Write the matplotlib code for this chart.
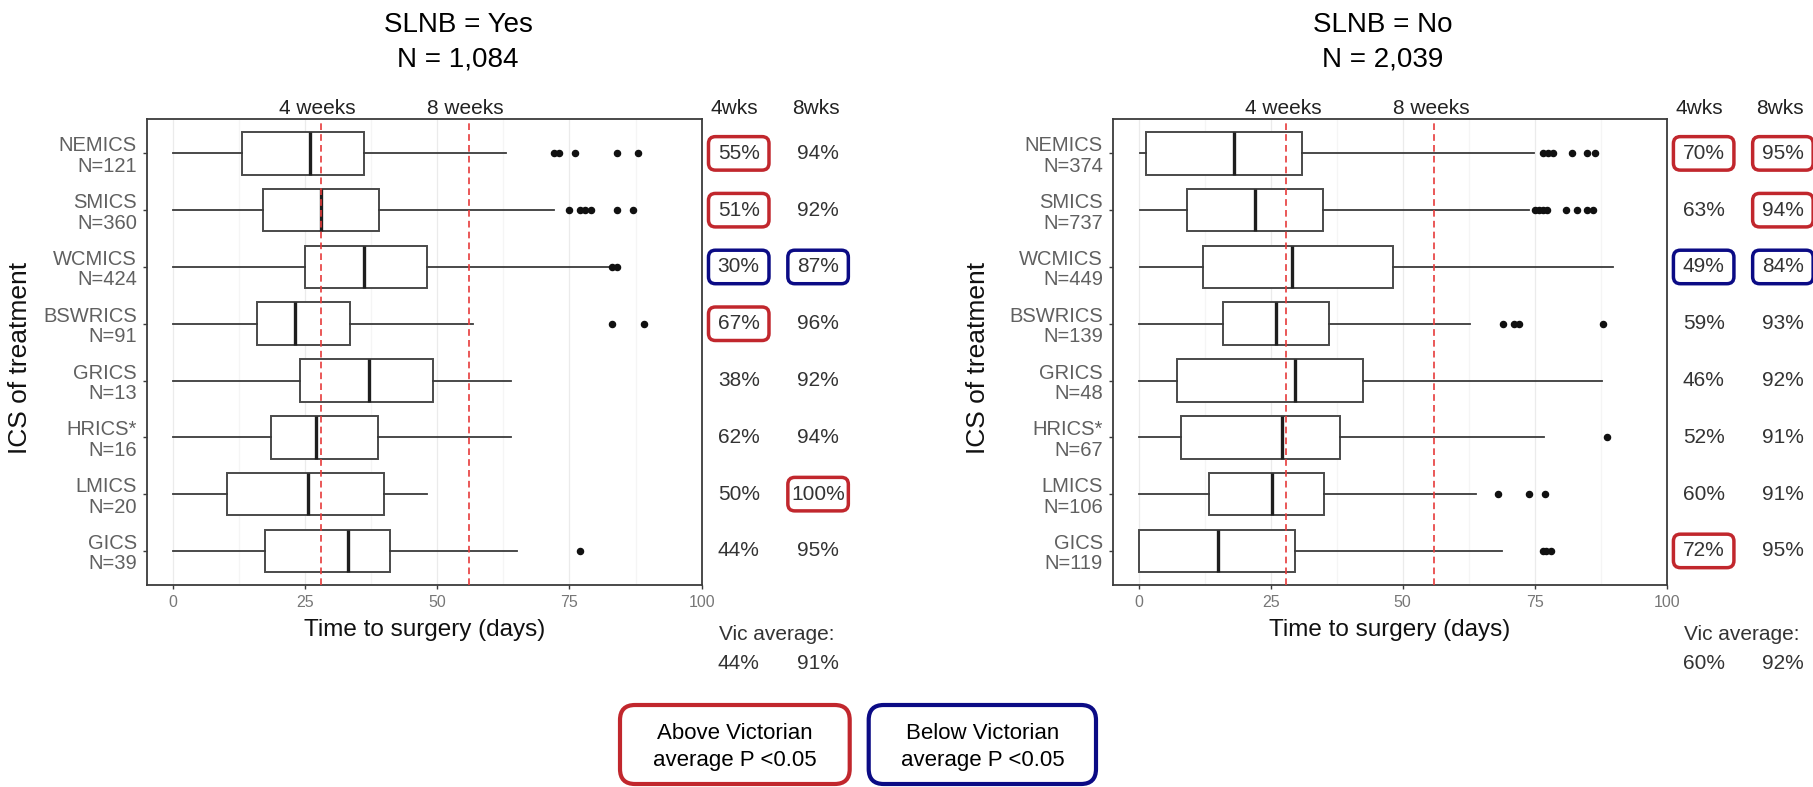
import numpy as np
import matplotlib
matplotlib.use("Agg")
import matplotlib.pyplot as plt
from matplotlib.patches import FancyBboxPatch
from matplotlib.transforms import ScaledTranslation

plt.rcParams['font.family'] = ['Liberation Sans', 'DejaVu Sans']

# ---------------- data ----------------
categories = ["NEMICS", "SMICS", "WCMICS", "BSWRICS", "GRICS", "HRICS*", "LMICS", "GICS"]

# SLNB = Yes
yes_total = "1,084"
yes_n = [121, 360, 424, 91, 13, 16, 20, 39]
yes_lo = [0, 0, 0, 0, 0, 0, 0, 0]
yes_q1 = [13.2, 17.1, 25.1, 16.0, 24.1, 18.6, 10.3, 17.5]
yes_med = [26.0, 28.1, 36.2, 23.1, 37.1, 27.1, 25.6, 33.1]
yes_q3 = [36.1, 39.1, 48.1, 33.6, 49.2, 38.8, 39.9, 41.1]
yes_hi = [63.1, 72.0, 82.4, 56.8, 63.9, 63.9, 48.0, 65.0]
yes_out = [[72, 73, 76, 84, 88], [75, 77, 78, 79, 84, 87], [83, 84], [83, 89],
           [], [], [], [77]]
yes_pct4 = [55, 51, 30, 67, 38, 62, 50, 44]
yes_pct8 = [94, 92, 87, 96, 92, 94, 100, 95]
yes_sig4 = ["above", "above", "below", "above", "", "", "", ""]
yes_sig8 = ["", "", "below", "", "", "", "above", ""]
yes_vic = (44, 91)

# SLNB = No
no_total = "2,039"
no_n = [374, 737, 449, 139, 48, 67, 106, 119]
no_lo = [0.3, 0.3, 0.3, 0, 0, 0, 0, 0]
no_q1 = [1.4, 9.1, 12.2, 16.0, 7.2, 8.1, 13.3, 0]
no_med = [18.0, 22.0, 29.0, 26.0, 29.7, 27.1, 25.2, 15.1]
no_q3 = [31.0, 35.0, 48.1, 36.0, 42.5, 38.2, 35.2, 29.7]
no_hi = [74.9, 73.9, 89.8, 62.8, 87.8, 76.8, 63.8, 68.9]
no_out = [[76.5, 77.5, 78.5, 82, 85, 86.5], [75, 75.8, 76.6, 77.4, 81, 83, 85, 86],
          [], [69, 71, 72, 88], [], [88.7], [68, 74, 77], [76.5, 77.2, 78]]
no_pct4 = [70, 63, 49, 59, 46, 52, 60, 72]
no_pct8 = [95, 94, 84, 93, 92, 91, 91, 95]
no_sig4 = ["above", "", "below", "", "", "", "", "above"]
no_sig8 = ["above", "above", "below", "", "", "", "", ""]
no_vic = (60, 92)

week_days = [28, 56]
week_labels = ["4 weeks", "8 weeks"]

# ---------------- layout ----------------
W, H, DPI = 1813, 787, 100
fig = plt.figure(figsize=(W / DPI, H / DPI), dpi=DPI, facecolor="white")

RED, BLUE = "#C1272D", "#0B0B85"
SIG_COLOR = {"above": RED, "below": BLUE}
XLIM = (-4.9, 100)
POS = np.arange(1, len(categories) + 1)
COL4, COL8 = 107.0, 122.0


def frac_rect(x0, y0, x1, y1):
    return [x0 / W, 1 - y1 / H, (x1 - x0) / W, (y1 - y0) / H]


def pct_box(ax, x, y, color):
    trans = fig.dpi_scale_trans + ScaledTranslation(x, y, ax.transData)
    bw, bh = 0.605, 0.335
    box = FancyBboxPatch((-bw / 2, -bh / 2), bw, bh,
                         boxstyle="round,pad=0,rounding_size=0.07",
                         transform=trans, fill=False, ec=color, lw=2.5,
                         clip_on=False, zorder=6)
    ax.add_artist(box)


def draw_panel(rect, title_x, title, total, n, lo, q1, med, q3, hi, out,
               p4, p8, s4, s8, vic, ylabel_x):
    ax = fig.add_axes(frac_rect(*rect))
    stats = [dict(whislo=a, q1=b, med=c, q3=d, whishi=e, fliers=f)
             for a, b, c, d, e, f in zip(lo, q1, med, q3, hi, out)]
    ax.bxp(stats, positions=POS, widths=0.75, orientation="horizontal",
           showcaps=False, patch_artist=True,
           boxprops=dict(facecolor="white", edgecolor="#4a4a4a", linewidth=1.4),
           medianprops=dict(color="#1e1e1e", linewidth=2.4),
           whiskerprops=dict(color="#3a3a3a", linewidth=1.3),
           flierprops=dict(marker="o", markerfacecolor="#111111",
                           markeredgecolor="#111111", markersize=4.4))
    ax.set_xlim(*XLIM)
    ax.set_ylim(8.6, 0.4)

    # grid
    ax.set_xticks([0, 25, 50, 75, 100])
    ax.set_xticks([12.5, 37.5, 62.5, 87.5], minor=True)
    ax.grid(axis="x", which="major", color="#ebebeb", lw=0.9, zorder=0)
    ax.grid(axis="x", which="minor", color="#f5f5f5", lw=0.9, zorder=0)
    ax.set_axisbelow(True)

    for sp in ax.spines.values():
        sp.set_color("#3c3c3c")
        sp.set_linewidth(1.3)

    ax.set_yticks(POS, labels=[f"{c}\nN={k}" for c, k in zip(categories, n)])
    for lab in ax.get_yticklabels():
        lab.set_linespacing(1.1)
    ax.tick_params(axis="y", length=3, width=1.0, color="#3c3c3c",
                   labelsize=14.5, labelcolor="#606060", pad=4)
    ax.tick_params(axis="x", which="major", length=3, width=1.0, color="#3c3c3c",
                   labelsize=11.5, labelcolor="#777777", pad=4)
    ax.tick_params(axis="x", which="minor", length=0)

    ax.set_xlabel("Time to surgery (days)", fontsize=17.5, color="#111111")
    ax.xaxis.set_label_coords(0.5, -0.072)
    ax.set_ylabel("ICS of treatment", fontsize=19, color="#111111")
    ax.yaxis.set_label_coords(ylabel_x, 0.487)

    # reference lines at 4 and 8 weeks
    for d, lab in zip(week_days, week_labels):
        ax.axvline(d, color="#E63B3B", lw=1.2, ls=(0, (4, 2.5)), zorder=5)
        ax.text(d - 0.6, 0.21, lab, ha="center", va="center", fontsize=15,
                color="#222222", clip_on=False)

    # percentage columns
    ax.text(COL4 - 0.8, 0.21, "4wks", ha="center", va="center", fontsize=15,
            color="#222222", clip_on=False)
    ax.text(COL8 - 0.5, 0.21, "8wks", ha="center", va="center", fontsize=15,
            color="#222222", clip_on=False)
    for y, a, b, sa, sb in zip(POS, p4, p8, s4, s8):
        ax.text(COL4, y, f"{a}%", ha="center", va="center", fontsize=15,
                color="#333333", clip_on=False)
        ax.text(COL8, y, f"{b}%", ha="center", va="center", fontsize=15,
                color="#333333", clip_on=False)
        if sa:
            pct_box(ax, COL4, y, SIG_COLOR[sa])
        if sb:
            pct_box(ax, COL8, y, SIG_COLOR[sb])

    ax.text(COL4 - 3.8, 9.47, "Vic average:", ha="left", va="center",
            fontsize=15, color="#333333", clip_on=False)
    ax.text(COL4, 9.98, f"{vic[0]}%", ha="center", va="center", fontsize=15,
            color="#333333", clip_on=False)
    ax.text(COL8, 9.98, f"{vic[1]}%", ha="center", va="center", fontsize=15,
            color="#333333", clip_on=False)

    # panel title
    fig.text(title_x / W, 1 - 31.7 / H, title, ha="center", va="baseline",
             fontsize=20, color="black")
    fig.text(title_x / W, 1 - 66 / H, f"N = {total}", ha="center",
             va="baseline", fontsize=20, color="black")
    return ax


draw_panel((146.7, 119.3, 701.7, 585), 458, "SLNB = Yes", yes_total, yes_n,
           yes_lo, yes_q1, yes_med, yes_q3, yes_hi, yes_out, yes_pct4,
           yes_pct8, yes_sig4, yes_sig8, yes_vic, -0.207)
draw_panel((1112.7, 119.3, 1666.7, 585), 1383, "SLNB = No", no_total, no_n,
           no_lo, no_q1, no_med, no_q3, no_hi, no_out, no_pct4, no_pct8,
           no_sig4, no_sig8, no_vic, -0.221)

# significance key (positions in inches from the lower-left corner)
key_items = [("Above Victorian\naverage P <0.05", RED, 620, 849.7),
             ("Below Victorian\naverage P <0.05", BLUE, 868.7, 1096)]
for text, color, x0, x1 in key_items:
    y0, y1 = 705, 784
    box = FancyBboxPatch((x0 / DPI, (H - y1) / DPI), (x1 - x0) / DPI,
                         (y1 - y0) / DPI,
                         boxstyle="round,pad=0,rounding_size=0.15",
                         transform=fig.dpi_scale_trans, fill=False,
                         ec=color, lw=3.0)
    fig.add_artist(box)
    fig.text((x0 + x1) / 2 / W, 1 - 747 / H, text, ha="center", va="center",
             fontsize=16, color="black", linespacing=1.35)

fig.savefig("out.png", dpi=DPI, facecolor="white")
